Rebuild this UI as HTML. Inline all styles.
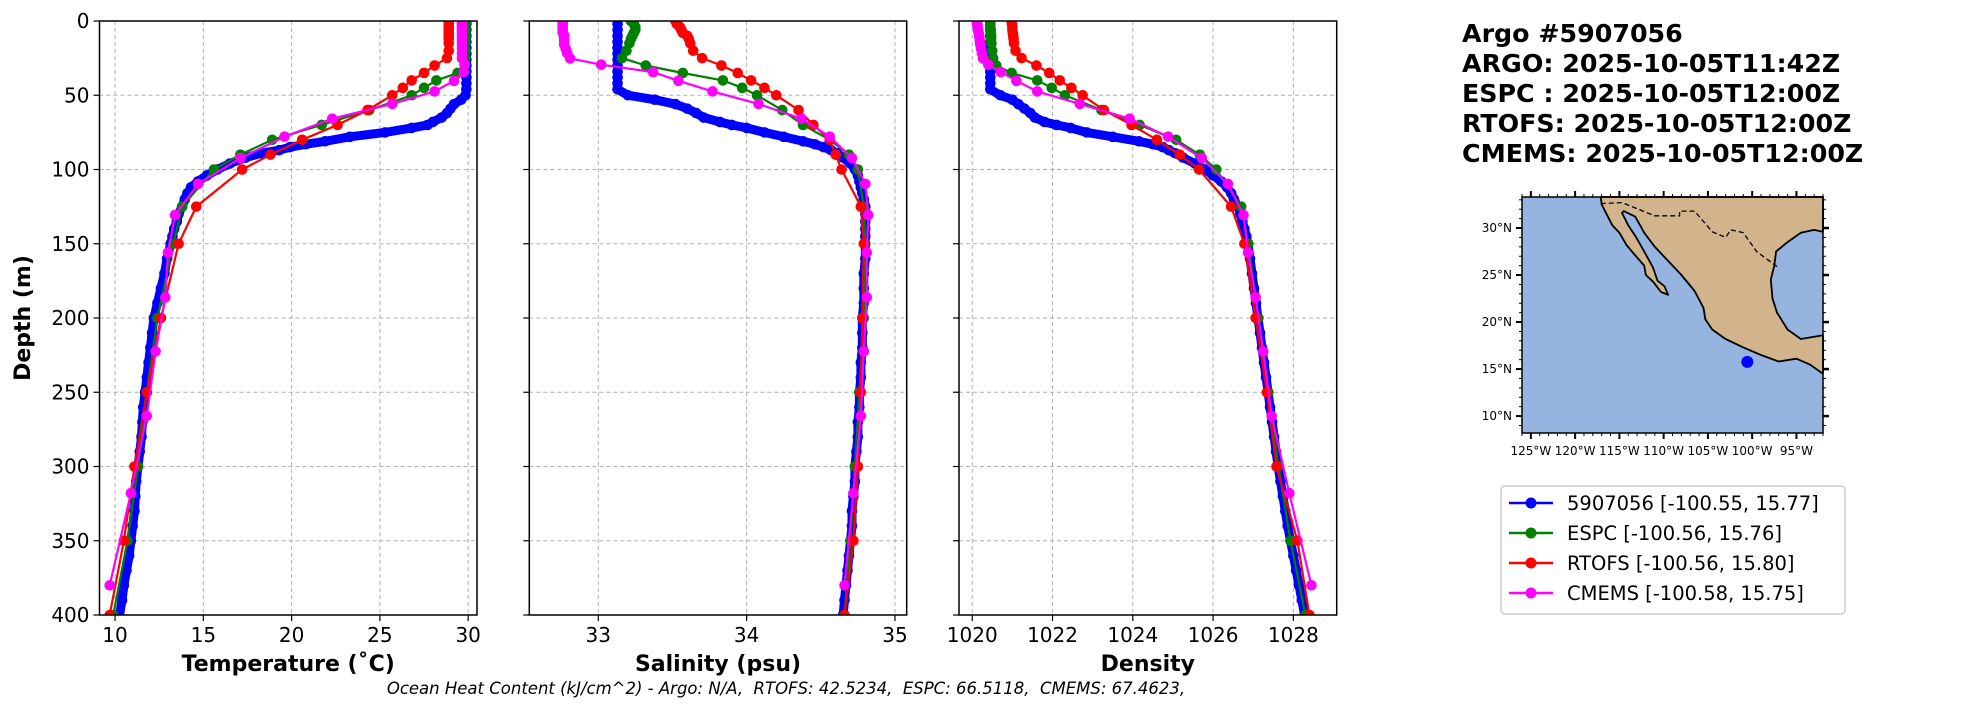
<!DOCTYPE html>
<html><head><meta charset="utf-8"><style>
html,body{margin:0;padding:0;background:#fff;}
svg{display:block;font-family:"DejaVu Sans","Liberation Sans",sans-serif;}
</style></head><body>
<svg id="fig" width="1967" height="712" viewBox="0 0 1967 712" xmlns="http://www.w3.org/2000/svg">
<g id="panels"></g>
<g id="map"></g>
<g font-family="DejaVu Sans, Liberation Sans, sans-serif" font-weight="bold" font-size="25.3">
<text x="1462" y="42">Argo #5907056</text>
<text x="1462" y="72">ARGO: 2025-10-05T11:42Z</text>
<text x="1462" y="102">ESPC : 2025-10-05T12:00Z</text>
<text x="1462" y="132">RTOFS: 2025-10-05T12:00Z</text>
<text x="1462" y="162">CMEMS: 2025-10-05T12:00Z</text>
</g>
<g>
<rect x="1501" y="486" width="344" height="128" rx="4" fill="#fff" stroke="#ccc" stroke-width="1.5"/>
<g><line x1="1509" x2="1553" y1="503" y2="503" stroke="#0000ff" stroke-width="2.5"/><circle cx="1531" cy="503" r="5.5" fill="#0000ff"/><text x="1567" y="510" font-size="19.5">5907056 [-100.55, 15.77]</text></g>
<g><line x1="1509" x2="1553" y1="533" y2="533" stroke="#008000" stroke-width="2.5"/><circle cx="1531" cy="533" r="5.5" fill="#008000"/><text x="1567" y="540" font-size="19.5">ESPC [-100.56, 15.76]</text></g>
<g><line x1="1509" x2="1553" y1="563" y2="563" stroke="#ff0000" stroke-width="2.5"/><circle cx="1531" cy="563" r="5.5" fill="#ff0000"/><text x="1567" y="570" font-size="19.5">RTOFS [-100.56, 15.80]</text></g>
<g><line x1="1509" x2="1553" y1="593" y2="593" stroke="#ff00ff" stroke-width="2.5"/><circle cx="1531" cy="593" r="5.5" fill="#ff00ff"/><text x="1567" y="600" font-size="19.5">CMEMS [-100.58, 15.75]</text></g>
</g>
<text x="786" y="694" text-anchor="middle" font-size="16.5" font-style="italic" xml:space="preserve">Ocean Heat Content (kJ/cm^2) - Argo: N/A,  RTOFS: 42.5234,  ESPC: 66.5118,  CMEMS: 67.4623,</text>
<text transform="translate(30,318) rotate(-90)" text-anchor="middle" font-size="22" font-weight="bold">Depth (m)</text>
</svg>
<script>
// ---- data ----
const argoDepth=[2,6,10,14,18,22,26,30,34,38,42,46,50,53,56,59,62,65,68,70,72,75,78,81,83,85,87,89,92,96,100,104,108,112,116,120,125,130,135,140,145,150,160,170,180,190,200,210,220,230,240,250,260,270,280,290,300,310,320,330,340,350,360,370,380,390,400];
const argoTemp=[29.9,29.9,29.9,29.9,29.9,29.9,29.9,29.9,29.9,29.9,29.9,29.9,29.85,29.6,29.2,29.0,28.8,28.5,28.0,27.7,26.8,25.3,23.3,21.9,20.8,19.9,19.3,18.3,17.4,16.5,15.8,15.2,14.7,14.3,14.1,13.95,13.8,13.6,13.5,13.35,13.25,13.15,12.95,12.8,12.6,12.4,12.2,12.1,12.0,11.9,11.8,11.7,11.6,11.55,11.5,11.4,11.3,11.2,11.15,11.1,11.0,10.9,10.8,10.65,10.5,10.4,10.25];
const argoSal=[33.13,33.13,33.13,33.13,33.13,33.13,33.13,33.13,33.13,33.13,33.13,33.13,33.2,33.38,33.52,33.6,33.66,33.71,33.82,33.9,34.0,34.12,34.25,34.38,34.46,34.52,34.57,34.61,34.65,34.7,34.73,34.75,34.76,34.77,34.78,34.79,34.8,34.8,34.8,34.8,34.8,34.8,34.8,34.79,34.79,34.79,34.78,34.78,34.78,34.77,34.77,34.76,34.76,34.75,34.75,34.74,34.73,34.73,34.72,34.71,34.71,34.7,34.69,34.68,34.67,34.66,34.65];
const argoDen=[1020.45,1020.45,1020.45,1020.45,1020.45,1020.45,1020.45,1020.45,1020.45,1020.45,1020.45,1020.45,1020.7,1021.0,1021.15,1021.3,1021.45,1021.56,1021.8,1022.1,1022.45,1022.85,1023.5,1024.15,1024.5,1024.75,1024.9,1025.05,1025.25,1025.55,1025.8,1026.0,1026.2,1026.35,1026.45,1026.52,1026.62,1026.68,1026.73,1026.78,1026.83,1026.87,1026.92,1026.97,1027.02,1027.07,1027.12,1027.17,1027.22,1027.27,1027.32,1027.37,1027.42,1027.47,1027.52,1027.57,1027.62,1027.68,1027.74,1027.8,1027.86,1027.93,1028.0,1028.07,1028.14,1028.21,1028.28];
const modelDepth=[0,2,4,6,8,10,12,15,20,25,30,35,40,45,50,60,70,80,90,100,125,150,200,250,300,350,400];
const espcTemp=[29.85,29.85,29.85,29.85,29.85,29.85,29.85,29.85,29.85,29.85,29.8,29.4,28.2,27.5,26.8,24.4,21.7,18.9,17.1,15.6,13.8,13.3,12.4,11.8,11.3,10.7,9.9];
const espcSal=[33.22,33.24,33.25,33.25,33.24,33.23,33.22,33.21,33.19,33.16,33.32,33.57,33.84,33.97,34.07,34.24,34.38,34.56,34.69,34.75,34.79,34.8,34.79,34.76,34.73,34.7,34.66];
const espcDen=[1020.45,1020.45,1020.45,1020.46,1020.46,1020.47,1020.47,1020.48,1020.5,1020.52,1020.6,1020.98,1021.62,1021.98,1022.31,1023.22,1024.17,1025.08,1025.67,1026.08,1026.7,1026.88,1027.13,1027.38,1027.63,1027.93,1028.3];
const rtofsTemp=[28.9,28.9,28.9,28.9,28.9,28.9,28.9,28.9,28.9,28.8,28.1,27.5,26.8,26.3,25.7,24.3,22.6,20.6,18.8,17.2,14.6,13.6,12.6,11.8,11.1,10.5,9.7];
const rtofsSal=[33.52,33.53,33.55,33.56,33.57,33.6,33.61,33.62,33.64,33.7,33.83,33.94,34.03,34.12,34.2,34.35,34.45,34.56,34.6,34.64,34.77,34.79,34.78,34.77,34.75,34.72,34.66];
const rtofsDen=[1020.98,1020.99,1021.0,1021.0,1021.01,1021.02,1021.03,1021.04,1021.08,1021.23,1021.6,1021.92,1022.18,1022.47,1022.75,1023.28,1023.97,1024.6,1025.17,1025.65,1026.45,1026.78,1027.06,1027.34,1027.58,1028.1,1028.4];
const cmemsDepth=[0.5,1.5,2.6,3.8,5,6.4,7.9,9.6,11.4,13.5,15.8,18.5,21.6,25.2,29.4,34.4,40.3,47.4,55.8,65.8,77.9,92.3,109.7,130.7,155.9,186.1,222.5,266,318,380];
const cmemsTemp=[29.65,29.65,29.65,29.65,29.65,29.65,29.65,29.65,29.65,29.65,29.65,29.65,29.65,29.65,29.8,29.75,29.2,28.1,25.7,22.3,19.6,17.1,14.7,13.4,13.0,12.85,12.3,11.8,10.9,9.7];
const cmemsSal=[32.76,32.76,32.76,32.76,32.76,32.76,32.76,32.77,32.77,32.77,32.77,32.78,32.79,32.81,33.02,33.37,33.54,33.77,34.08,34.37,34.56,34.71,34.8,34.82,34.81,34.81,34.79,34.77,34.72,34.66];
const cmemsDen=[1020.12,1020.12,1020.13,1020.13,1020.14,1020.15,1020.16,1020.17,1020.18,1020.19,1020.2,1020.22,1020.24,1020.27,1020.4,1020.71,1021.1,1021.62,1022.68,1023.92,1024.88,1025.72,1026.37,1026.76,1026.87,1027.06,1027.25,1027.46,1027.9,1028.45];
const depthTicks=[0,50,100,150,200,250,300,350,400];
const tempTicks=[10,15,20,25,30];
const salTicks=[33,34,35];
const denTicks=[1020,1022,1024,1026,1028];
const floatLon=-100.55, floatLat=15.77;
const latTicks=[10,15,20,25,30];
const lonTicks=[-125,-120,-115,-110,-105,-100,-95];

(function(){
const NS="http://www.w3.org/2000/svg";
function mk(tag,attrs,parent){const e=document.createElementNS(NS,tag);for(const k in attrs)e.setAttribute(k,attrs[k]);parent.appendChild(e);return e;}
const pTop=21,pBot=615;
const yD=d=>pTop+(d/400)*(pBot-pTop);
const panelsG=document.getElementById('panels');
const panels=[
 {name:'temperature',left:99.5,right:477,xmin:9.12,xmax:30.5,ticks:tempTicks,title:'Temperature (˚C)',series:[[argoDepth,argoTemp],[modelDepth,espcTemp],[modelDepth,rtofsTemp],[cmemsDepth,cmemsTemp]],ylabels:true},
 {name:'salinity',left:529.3,right:906.7,xmin:32.535,xmax:35.079,ticks:salTicks,title:'Salinity (psu)',series:[[argoDepth,argoSal],[modelDepth,espcSal],[modelDepth,rtofsSal],[cmemsDepth,cmemsSal]],ylabels:false},
 {name:'density',left:959,right:1336.7,xmin:1019.67,xmax:1029.08,ticks:denTicks,title:'Density',series:[[argoDepth,argoDen],[modelDepth,espcDen],[modelDepth,rtofsDen],[cmemsDepth,cmemsDen]],ylabels:false}
];
const colors=['#0000ff','#008000','#ff0000','#ff00ff'];
const snames=['argo','espc','rtofs','cmems'];
panels.forEach(p=>{
 const g=mk('g',{},panelsG);
 
 
 const xS=v=>p.left+(v-p.xmin)/(p.xmax-p.xmin)*(p.right-p.left);
 depthTicks.forEach(d=>{
  const l=mk('line',{x1:p.left,x2:p.right,y1:yD(d),y2:yD(d),stroke:'#b0b0b0','stroke-width':1,'stroke-dasharray':'4,3'},g);
  
  
  const t=mk('line',{x1:p.left-6,x2:p.left,y1:yD(d),y2:yD(d),stroke:'#000','stroke-width':1.2},g);
  
  
  if(p.ylabels){
   const tx=mk('text',{x:p.left-10,y:yD(d)+7,'text-anchor':'end','font-size':20},g);
   tx.textContent=d;
   
   
  }
 });
 p.ticks.forEach(v=>{
  const l=mk('line',{x1:xS(v),x2:xS(v),y1:pTop,y2:pBot,stroke:'#b0b0b0','stroke-width':1,'stroke-dasharray':'4,3'},g);
  
  
  const t=mk('line',{x1:xS(v),x2:xS(v),y1:pBot,y2:pBot+6,stroke:'#000','stroke-width':1.2},g);
  
  
  const tx=mk('text',{x:xS(v),y:pBot+27,'text-anchor':'middle','font-size':20},g);
  tx.textContent=v;
  
  
 });
 const title=mk('text',{x:(p.left+p.right)/2,y:pBot+56,'text-anchor':'middle','font-size':22,'font-weight':'bold'},g);
 title.textContent=p.title;
 
 
 const cp='clip-'+p.name;
 const cl=mk('clipPath',{id:cp},g);mk('rect',{x:p.left,y:pTop,width:p.right-p.left,height:pBot-pTop},cl);
 p.series.forEach((s,i)=>{
  const sg=mk('g',{'clip-path':'url(#'+cp+')'},g);
  
  
  const pts=s[0].map((d,k)=>xS(s[1][k]).toFixed(1)+','+yD(d).toFixed(1)).join(' ');
  if(i===0){
   const band=mk('polyline',{points:pts,fill:'none',stroke:colors[i],'stroke-width':9,'stroke-linejoin':'round','stroke-linecap':'round'},sg);
   
   
  }
  const pl=mk('polyline',{points:pts,fill:'none',stroke:colors[i],'stroke-width':2.2},sg);
  
  
  s[0].forEach((d,k)=>{
   const c=mk('circle',{cx:xS(s[1][k]),cy:yD(d),r:5.3,fill:colors[i]},sg);
   
   
  });
 });
 const fr=mk('rect',{x:p.left,y:pTop,width:p.right-p.left,height:pBot-pTop,fill:'none',stroke:'#000','stroke-width':1.5},g);
 
 
});

// ---- map ----
const mg=document.getElementById('map');
const mL=1522,mR=1823,mT=197,mB=433,lonMin=-126,lonMax=-92,latMin=8.2,latMax=33.3;
const mx=lo=>mL+(lo-lonMin)/(lonMax-lonMin)*(mR-mL);
const my=la=>mT+(latMax-la)/(latMax-latMin)*(mB-mT);
const ocean=mk('rect',{x:mL,y:mT,width:mR-mL,height:mB-mT,fill:'#95b4e0'},mg);


const land=[[-117.1,33.3],[-117,32.5],[-116.3,31.2],[-115.8,30.3],[-115,29.5],[-114.2,28.2],[-113.3,27.2],[-112.2,26],[-112,25],[-111.2,24.3],[-110.3,23.2],[-109.5,22.9],[-109.9,23.8],[-110.7,24.4],[-111.2,25.8],[-112.2,27.5],[-113.1,29],[-114,30.3],[-114.7,31.6],[-114.5,31.8],[-113.2,31.2],[-112.2,29.5],[-111,28],[-109.5,26.5],[-108,25],[-106.5,23.3],[-105.5,21.5],[-105.3,20.3],[-104.5,19.2],[-103,18.2],[-101,17.3],[-99,16.5],[-97,15.8],[-95,16.1],[-93.5,15.5],[-92,14.5],[-92,18.6],[-94.5,18.2],[-96,19.2],[-97.2,21],[-97.7,22.5],[-97.9,24.5],[-97.5,26],[-97.3,27.5],[-96,28.5],[-94.5,29.5],[-93,29.8],[-92,29.6],[-92,33.3]];
const lp=mk('polygon',{points:land.map(q=>mx(q[0]).toFixed(1)+','+my(q[1]).toFixed(1)).join(' '),fill:'#d2b48c',stroke:'#000','stroke-width':1.8,'stroke-linejoin':'round'},mg);


const border=[[-117.1,32.6],[-114.7,32.7],[-111,31.3],[-108.2,31.3],[-108.2,31.8],[-106.5,31.8],[-104.5,29.6],[-103,29],[-102.4,29.8],[-101,29.5],[-99.5,27.5],[-97.2,25.9]];
const bl=mk('polyline',{points:border.map(q=>mx(q[0]).toFixed(1)+','+my(q[1]).toFixed(1)).join(' '),fill:'none',stroke:'#000','stroke-width':1.3,'stroke-dasharray':'5,3'},mg);


const dot=mk('circle',{cx:mx(floatLon),cy:my(floatLat),r:6,fill:'#0000ff'},mg);


const mf=mk('rect',{x:mL,y:mT,width:mR-mL,height:mB-mT,fill:'none',stroke:'#000','stroke-width':1.5},mg);


latTicks.forEach(la=>{
 mk('line',{x1:mL-6,x2:mL,y1:my(la),y2:my(la),stroke:'#000','stroke-width':2},mg);
 mk('line',{x1:mR,x2:mR+6,y1:my(la),y2:my(la),stroke:'#000','stroke-width':2.5},mg);
 const t=mk('text',{x:mL-10,y:my(la)+4,'text-anchor':'end','font-size':12},mg);
 t.textContent=la+'°N';
 
 
});
lonTicks.forEach(lo=>{
 mk('line',{x1:mx(lo),x2:mx(lo),y1:mB,y2:mB+6,stroke:'#000','stroke-width':2},mg);
 mk('line',{x1:mx(lo),x2:mx(lo),y1:mT-6,y2:mT,stroke:'#000','stroke-width':2},mg);
 const t=mk('text',{x:mx(lo),y:mB+22,'text-anchor':'middle','font-size':12},mg);
 t.textContent=Math.abs(lo)+'°W';
 
 
});
for(let lo=-126;lo<=-92;lo++){mk('line',{x1:mx(lo),x2:mx(lo),y1:mT-3,y2:mT,stroke:'#000','stroke-width':1},mg);mk('line',{x1:mx(lo),x2:mx(lo),y1:mB,y2:mB+3,stroke:'#000','stroke-width':1},mg);}
for(let la=9;la<=33;la++){mk('line',{x1:mL-3,x2:mL,y1:my(la),y2:my(la),stroke:'#000','stroke-width':1},mg);mk('line',{x1:mR,x2:mR+3,y1:my(la),y2:my(la),stroke:'#000','stroke-width':1},mg);}
})();
</script>
</body></html>
